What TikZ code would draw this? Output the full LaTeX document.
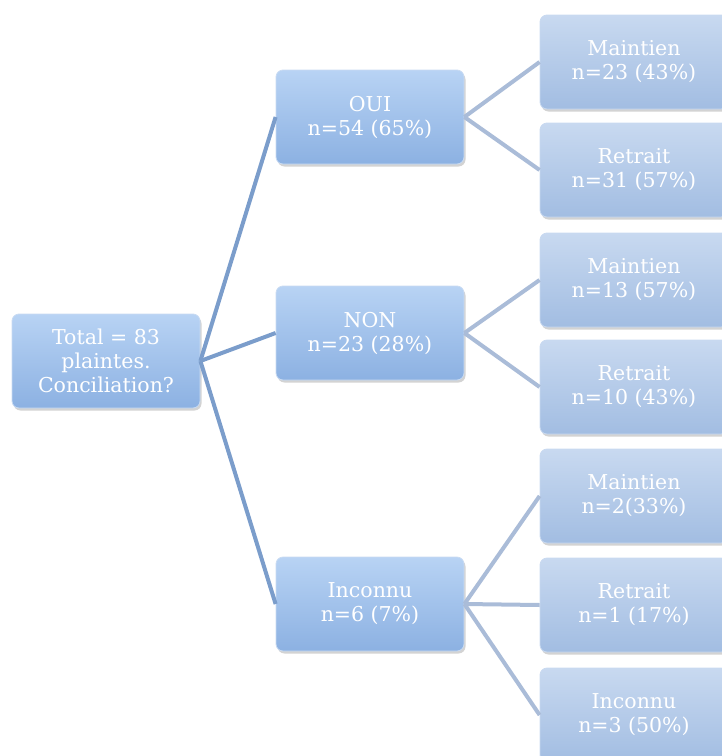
\documentclass[tikz,border=0pt]{standalone}
\usepackage{fontspec}
\setmainfont{DejaVu Serif}
\usetikzlibrary{shadows}
\definecolor{boxtop}{HTML}{B8D3F4}
\definecolor{boxbot}{HTML}{8CB1E2}
\definecolor{boxline}{HTML}{C9DBF2}
\definecolor{leaftop}{HTML}{C8D9F0}
\definecolor{leafbot}{HTML}{A2BDE2}
\definecolor{linkone}{HTML}{7B9DCB}
\definecolor{linktwo}{HTML}{AABCD8}
\tikzset{
  box/.style={rectangle, rounded corners=7pt, minimum width=188pt, minimum height=94pt,
    top color=boxtop, bottom color=boxbot, draw=boxline, line width=0.8pt,
    text=white, align=center, font=\fontsize{20.5}{24}\selectfont,
    drop shadow={opacity=0.35, shadow xshift=1.5pt, shadow yshift=-2.5pt}},
  leaf/.style={box, top color=leaftop, bottom color=leafbot, draw=leaftop},
  linka/.style={draw=linkone, line width=4pt},
  linkb/.style={draw=linktwo, line width=4pt}
}
\begin{document}
\begin{tikzpicture}[x=1pt,y=-1pt]
\useasboundingbox (0,0) rectangle (722,756);
\node[box] (root) at (106,361) {Total = 83\\plaintes.\\Conciliation?};
\node[box] (oui) at (370,117) {OUI\\n=54 (65\%)};
\node[box] (non) at (370,333) {NON\\n=23 (28\%)};
\node[box] (inc) at (370,604) {Inconnu\\n=6 (7\%)};
\node[leaf] (l1) at (634,62) {Maintien\\n=23 (43\%)};
\node[leaf] (l2) at (634,170) {Retrait\\n=31 (57\%)};
\node[leaf] (l3) at (634,280) {Maintien\\n=13 (57\%)};
\node[leaf] (l4) at (634,387) {Retrait\\n=10 (43\%)};
\node[leaf] (l5) at (634,496) {Maintien\\n=2(33\%)};
\node[leaf] (l6) at (634,605) {Retrait\\n=1 (17\%)};
\node[leaf] (l7) at (634,715) {Inconnu\\n=3 (50\%)};
\draw[linka] (root.east) -- (oui.west);
\draw[linka] (root.east) -- (non.west);
\draw[linka] (root.east) -- (inc.west);
\draw[linkb] (oui.east) -- (l1.west);
\draw[linkb] (oui.east) -- (l2.west);
\draw[linkb] (non.east) -- (l3.west);
\draw[linkb] (non.east) -- (l4.west);
\draw[linkb] (inc.east) -- (l5.west);
\draw[linkb] (inc.east) -- (l6.west);
\draw[linkb] (inc.east) -- (l7.west);
\end{tikzpicture}
\end{document}
